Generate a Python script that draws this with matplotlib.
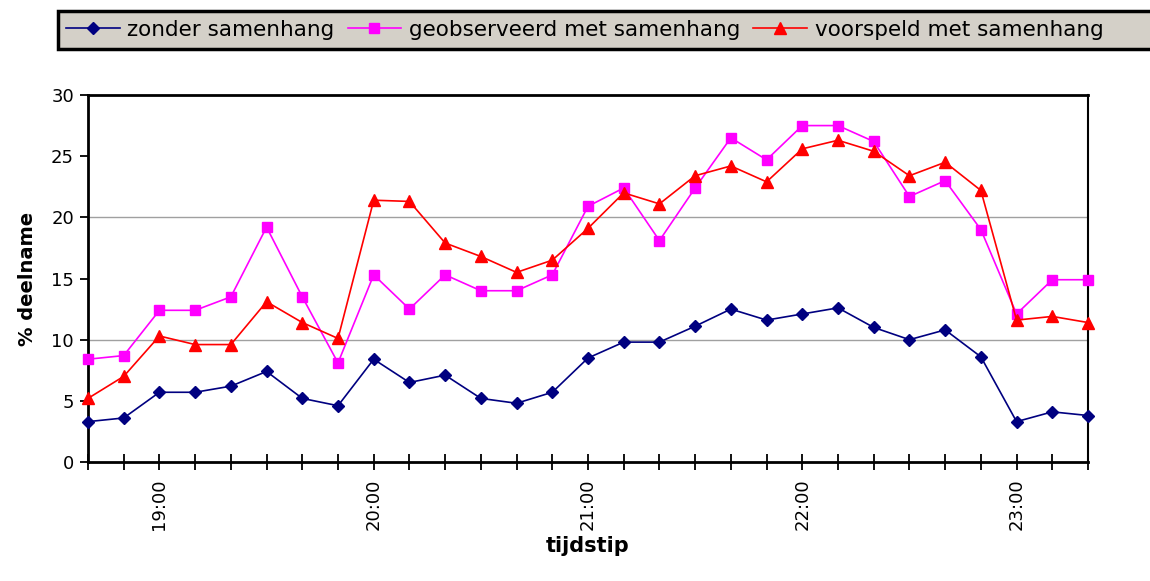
import matplotlib
matplotlib.use("Agg")
import matplotlib.pyplot as plt
from matplotlib.patches import Rectangle

times = ["18:40", "18:50", "19:00", "19:10", "19:20", "19:30", "19:40", "19:50",
         "20:00", "20:10", "20:20", "20:30", "20:40", "20:50",
         "21:00", "21:10", "21:20", "21:30", "21:40", "21:50",
         "22:00", "22:10", "22:20", "22:30", "22:40", "22:50",
         "23:00", "23:10", "23:20"]

zonder = [3.3, 3.6, 5.7, 5.7, 6.2, 7.4, 5.2, 4.6, 8.4, 6.5,
          7.1, 5.2, 4.8, 5.7, 8.5, 9.8, 9.8, 11.1, 12.5, 11.6,
          12.1, 12.6, 11.0, 10.0, 10.8, 8.6, 3.3, 4.1, 3.8]

geobserveerd = [8.4, 8.7, 12.4, 12.4, 13.5, 19.2, 13.5, 8.1, 15.3, 12.5,
                15.3, 14.0, 14.0, 15.3, 20.9, 22.4, 18.1, 22.4, 26.5, 24.7,
                27.5, 27.5, 26.2, 21.7, 23.0, 19.0, 12.1, 14.9, 14.9]

voorspeld = [5.2, 7.0, 10.3, 9.6, 9.6, 13.1, 11.4, 10.1, 21.4, 21.3,
             17.9, 16.8, 15.5, 16.5, 19.1, 22.0, 21.1, 23.4, 24.2, 22.9,
             25.6, 26.3, 25.4, 23.4, 24.5, 22.2, 11.6, 11.9, 11.4]

labels = ["zonder samenhang", "geobserveerd met samenhang", "voorspeld met samenhang"]
yticks = [0, 5, 10, 15, 20, 25, 30]
hour_labels = ["19:00", "20:00", "21:00", "22:00", "23:00"]

fig = plt.figure(figsize=(11.5, 5.81), dpi=100)
ax = fig.add_axes([88/1150, 1-462/581, 1000/1150, 367/581])

x = list(range(len(times)))
ax.plot(x, zonder, color="#000080", marker="D", markersize=6, lw=1.2, clip_on=False, zorder=3, label=labels[0])
ax.plot(x, geobserveerd, color="#FF00FF", marker="s", markersize=7.5, lw=1.2, clip_on=False, zorder=3, label=labels[1])
ax.plot(x, voorspeld, color="#FF0000", marker="^", markersize=8.5, lw=1.2, clip_on=False, zorder=4, label=labels[2])

ax.set_xlim(0, len(times) - 1)
ax.set_ylim(0, 30)
ax.set_yticks(yticks)
ax.set_yticklabels([str(v) for v in yticks], fontsize=13)
ax.set_xticks(x)
ax.set_xticklabels([t if t in hour_labels else "" for t in times], rotation=90, fontsize=13)
ax.tick_params(axis="x", direction="inout", length=12, width=1.3, pad=6)
ax.tick_params(axis="y", direction="out", length=6, width=1.3, pad=4)

for g in [10, 20]:
    ax.axhline(g, color="#a0a0a0", lw=1.0, zorder=1)

for s in ["left", "bottom", "top"]:
    ax.spines[s].set_linewidth(2.0)
    ax.spines[s].set_color("black")
ax.spines["right"].set_linewidth(1.5)
ax.spines["right"].set_color("black")

ax.set_ylabel("% deelname", fontsize=14, fontweight="bold", labelpad=10)
ax.set_xlabel("tijdstip", fontsize=15, fontweight="bold", labelpad=4)

rect = Rectangle((58/1150, 1-49/581), 1.1, 38/581, transform=fig.transFigure,
                 facecolor="#d4d0c8", edgecolor="black", lw=2.5, zorder=0)
fig.patches.append(rect)

fig.legend(loc="center left", bbox_to_anchor=(66/1150, 1-30/581), ncol=3, frameon=False,
           fontsize=15.5, handlelength=2.5, handletextpad=0.35, columnspacing=0.6,
           borderaxespad=0, borderpad=0)

fig.savefig("out.png", dpi=100)
